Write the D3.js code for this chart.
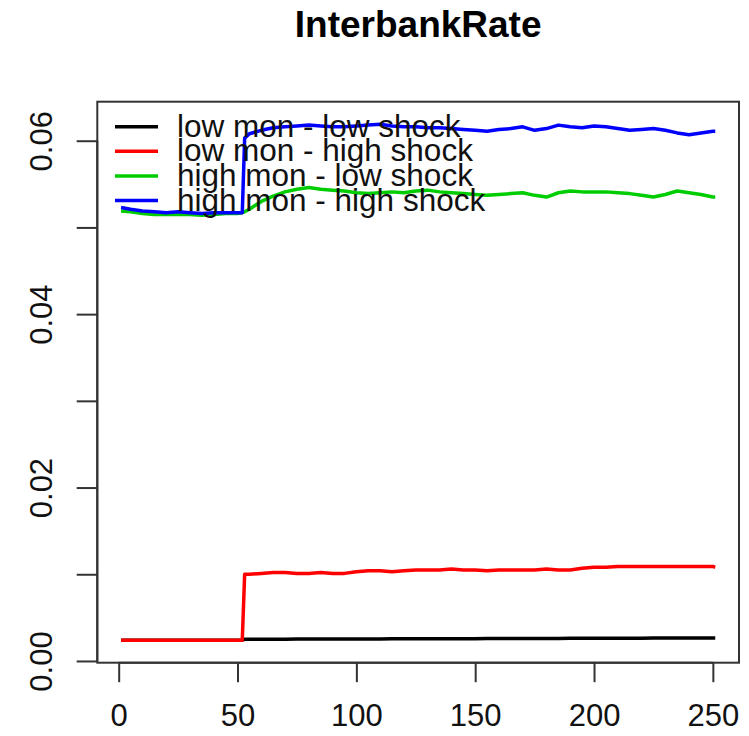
<!DOCTYPE html>
<html>
<head>
<meta charset="utf-8">
<script src="https://cdn.jsdelivr.net/npm/d3@7"></script>
<style>
  html, body { margin: 0; padding: 0; background: #fff; }
  svg { display: block; font-family: "Liberation Sans", Arial, Helvetica, sans-serif; }
</style>
</head>
<body>
<div id="vis"></div>
<script>
var steps = [1, 5, 10, 15, 20, 25, 30, 35, 40, 45, 50, 52, 53,
  55, 60, 65, 70, 75, 80, 85, 90, 95, 100, 105, 110, 115, 120, 125, 130, 135, 140,
  145, 150, 155, 160, 165, 170, 175, 180, 185, 190, 195, 200, 205, 210, 215, 220,
  225, 230, 235, 240, 245, 250, 251]

var lowMonLowShock = [0.0024, 0.0024, 0.0024, 0.0024, 0.0024, 0.0024, 0.0024, 0.0024, 0.0024, 0.0024, 0.0024, 0.0024, 0.00250,
  0.00250, 0.00250, 0.00251, 0.00251, 0.00252, 0.00252, 0.00252, 0.00253, 0.00253, 0.00254, 0.00254, 0.00254, 0.00255, 0.00255, 0.00255, 0.00256, 0.00256, 0.00256,
  0.00257, 0.00257, 0.00258, 0.00258, 0.00258, 0.00259, 0.00259, 0.00260, 0.00260, 0.00261, 0.00261, 0.00262, 0.00262, 0.00262, 0.00263, 0.00263,
  0.00264, 0.00264, 0.00264, 0.00265, 0.00265, 0.00265, 0.00265]

var lowMonHighShock = [0.0024, 0.0024, 0.0024, 0.0024, 0.0024, 0.0024, 0.0024, 0.0024, 0.0024, 0.0024, 0.0024, 0.0024, 0.0100,
  0.0100, 0.0101, 0.0102, 0.0102, 0.0101, 0.0101, 0.0102, 0.0101, 0.0101, 0.0103, 0.0104, 0.0104, 0.0103, 0.0104, 0.0105, 0.0105, 0.0105, 0.0106,
  0.0105, 0.0105, 0.0104, 0.0105, 0.0105, 0.0105, 0.0105, 0.0106, 0.0105, 0.0105, 0.0107, 0.0108, 0.0108, 0.0109, 0.0109, 0.0109,
  0.0109, 0.0109, 0.0109, 0.0109, 0.0109, 0.0109, 0.0108]

var highMonLowShock = [0.0519, 0.0518, 0.0516, 0.0515, 0.0515, 0.0515, 0.0515, 0.0514, 0.0515, 0.0516, 0.0516, 0.0517, 0.0518,
  0.0521, 0.0530, 0.0536, 0.0541, 0.0544, 0.0546, 0.0544, 0.0543, 0.0542, 0.0540, 0.0539, 0.0540, 0.0541, 0.0540, 0.0542, 0.0543, 0.0541, 0.0540,
  0.0539, 0.0538, 0.0537, 0.0538, 0.0539, 0.0540, 0.0537, 0.0535, 0.0540, 0.0542, 0.0541, 0.0541, 0.0541, 0.0540, 0.0539, 0.0537,
  0.0535, 0.0538, 0.0542, 0.0540, 0.0538, 0.0535, 0.0535]

var highMonHighShock = [0.0523, 0.0521, 0.0519, 0.0518, 0.0517, 0.0518, 0.0517, 0.0516, 0.0517, 0.0517, 0.0517, 0.0517, 0.0603,
  0.0608, 0.0612, 0.0615, 0.0616, 0.0617, 0.0618, 0.0617, 0.0616, 0.0616, 0.0617, 0.0618, 0.0619, 0.0617, 0.0616, 0.0616, 0.0615, 0.0615, 0.0614,
  0.0613, 0.0612, 0.0611, 0.0613, 0.0614, 0.0616, 0.0612, 0.0614, 0.0618, 0.0616, 0.0615, 0.0617, 0.0616, 0.0614, 0.0612, 0.0613,
  0.0614, 0.0612, 0.0609, 0.0607, 0.0609, 0.0611, 0.0611]

var seriesNames = ["low mon - low shock", "low mon - high shock", "high mon - low shock", "high mon - high shock"]
var seriesColors = ["#000000", "#ff0000", "#00cd00", "#0000ff"]
var xTicks = [0, 50, 100, 150, 200, 250]
var yTicks = [0, 0.01, 0.02, 0.03, 0.04, 0.05, 0.06]
// only every other y tick gets a label, as in the original
var yLabelled = [0, 0.02, 0.04, 0.06]

var allSeries = [lowMonLowShock, lowMonHighShock, highMonLowShock, highMonHighShock]

var width = 749, height = 736
// plot box in pixels
var box = { left: 97.3, right: 739, top: 101.7, bottom: 662.7 }

var svg = d3.select("#vis").append("svg")
    .attr("width", width)
    .attr("height", height)

var x = d3.scaleLinear().domain([-9, 261]).range([box.left, box.right])
var y = d3.scaleLinear().domain([-0.0002, 0.0645]).range([box.bottom, box.top])

// title
svg.append("text")
    .attr("x", (box.left + box.right) / 2)
    .attr("y", 37)
    .attr("text-anchor", "middle")
    .attr("font-size", "37px")
    .attr("font-weight", "bold")
    .attr("fill", "#000")
    .text("InterbankRate")

// lines
var line = d3.line()
    .x(function (d) { return x(d[0]) })
    .y(function (d) { return y(d[1]) })

allSeries.forEach(function (vals, i) {
    svg.append("path")
        .datum(steps.map(function (t, j) { return [t, vals[j]] }))
        .attr("fill", "none")
        .attr("stroke", seriesColors[i])
        .attr("stroke-width", 3.5)
        .attr("stroke-linejoin", "round")
        .attr("d", line)
})

// box
svg.append("rect")
    .attr("x", box.left)
    .attr("y", box.top)
    .attr("width", box.right - box.left)
    .attr("height", box.bottom - box.top)
    .attr("fill", "none")
    .attr("stroke", "#333")
    .attr("stroke-width", 2)

// x axis
var xAxis = d3.axisBottom(x).tickValues(xTicks).tickSize(19.5).tickPadding(22).tickFormat(d3.format("d"))
var gx = svg.append("g")
    .attr("transform", "translate(0," + box.bottom + ")")
    .call(xAxis)
gx.select("path.domain").attr("stroke", "#333").attr("stroke-width", 2)
    .attr("d", "M" + x(0) + ",0H" + x(250))
gx.selectAll(".tick line").attr("stroke", "#333").attr("stroke-width", 2)
gx.selectAll(".tick text")
    .attr("font-size", "31px")
    .attr("font-family", "'Liberation Sans', Arial, sans-serif")
    .attr("fill", "#111")

// y axis
var fmt = d3.format(".2f")
var yAxis = d3.axisLeft(y).tickValues(yTicks).tickSize(20.6)
    .tickFormat(function (d) { return yLabelled.indexOf(d) >= 0 ? fmt(d) : "" })
var gy = svg.append("g")
    .attr("transform", "translate(" + box.left + ",0)")
    .call(yAxis)
gy.select("path.domain").attr("stroke", "#333").attr("stroke-width", 2)
    .attr("d", "M0," + y(0) + "V" + y(0.06))
gy.selectAll(".tick line").attr("stroke", "#333").attr("stroke-width", 2)
gy.selectAll(".tick text")
    .attr("font-size", "31px")
    .attr("font-family", "'Liberation Sans', Arial, sans-serif")
    .attr("fill", "#111")
    .attr("x", null)
    .attr("dy", null)
    .attr("text-anchor", "middle")
    .attr("transform", "translate(" + (51.7 - box.left) + ",0) rotate(-90)")

// legend, no frame, drawn on top of the lines
var legend = svg.append("g")
seriesNames.forEach(function (name, i) {
    var ly = 126.7 + i * 24.6
    legend.append("line")
        .attr("x1", 115).attr("x2", 158)
        .attr("y1", ly).attr("y2", ly)
        .attr("stroke", seriesColors[i])
        .attr("stroke-width", 3.5)
    legend.append("text")
        .attr("x", 177)
        .attr("y", ly + 10)
        .attr("font-size", "31.5px")
        .attr("fill", "#111")
        .text(name)
})
</script>
</body>
</html>
